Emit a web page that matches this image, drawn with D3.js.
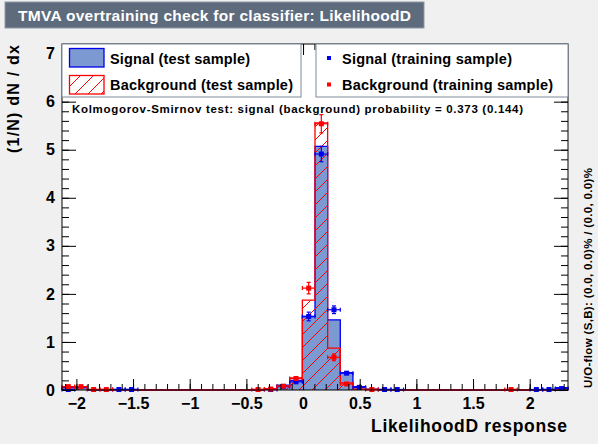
<!DOCTYPE html>
<html>
<head>
<meta charset="utf-8">
<script src="https://cdn.jsdelivr.net/npm/d3@7"></script>
<style>
  body { margin: 0; background: #f0f0f0; }
  svg { display: block; font-family: "Liberation Sans", Arial, Helvetica, sans-serif; font-weight: bold; }
</style>
</head>
<body>
<svg id="chart" width="598" height="444"></svg>
<script>
// histogram binning (40 bins over the response range)
var xRange = [-2.127, 2.338];
var nBins = 40;
var yRange = [0, 7.2];

// test samples (drawn as histograms)
var sigTest = [0.05, 0.05, 0, 0, 0.01, 0.01, 0, 0, 0, 0,
               0, 0, 0, 0, 0, 0, 0.02, 0.1, 0.2, 1.53,
               5.07, 1.46, 0.36, 0.07, 0.02, 0.01, 0, 0, 0, 0,
               0, 0, 0, 0, 0, 0, 0, 0, 0.01, 0.05];
var bkgTest = [0.07, 0.07, 0.01, 0.01, 0, 0, 0, 0, 0, 0,
               0, 0, 0, 0, 0, 0.01, 0.03, 0.08, 0.25, 1.87,
               5.56, 0.87, 0.15, 0.02, 0.01, 0, 0, 0, 0, 0,
               0, 0, 0, 0, 0, 0.01, 0, 0, 0, 0];

// training samples (drawn as points with errors)
var sigTrain = [0.01, 0, 0, 0, 0.01, 0.01, 0, 0, 0, 0,
                0, 0, 0, 0, 0, 0, 0.01, 0.07, 0.17, 1.53,
                4.91, 1.67, 0.35, 0.055, 0, 0.01, 0.01, 0, 0, 0,
                0, 0, 0, 0, 0, 0, 0, 0.01, 0.01, 0.03];
var sigTrainErr = [0.01, 0, 0, 0, 0.01, 0.01, 0, 0, 0, 0,
                   0, 0, 0, 0, 0, 0, 0.01, 0.02, 0.03, 0.09,
                   0.16, 0.08, 0.04, 0.02, 0, 0.01, 0.01, 0, 0, 0,
                   0, 0, 0, 0, 0, 0, 0, 0.01, 0.01, 0.01];
var bkgTrain = [0.07, 0.07, 0.01, 0.01, 0, 0, 0, 0, 0, 0,
                0, 0, 0, 0, 0, 0.01, 0.02, 0.08, 0.24, 2.12,
                5.54, 0.68, 0.125, 0, 0.01, 0, 0, 0, 0, 0,
                0, 0, 0, 0, 0, 0.01, 0, 0, 0, 0];
var bkgTrainErr = [0.02, 0.02, 0.01, 0.01, 0, 0, 0, 0, 0, 0,
                   0, 0, 0, 0, 0, 0.01, 0.01, 0.02, 0.04, 0.12,
                   0.19, 0.07, 0.03, 0, 0.01, 0, 0, 0, 0, 0,
                   0, 0, 0, 0, 0, 0.01, 0, 0, 0, 0];

var xMajor = [-2, -1.5, -1, -0.5, 0, 0.5, 1, 1.5, 2];
var yMajor = [0, 1, 2, 3, 4, 5, 6, 7];

var titleText = "TMVA overtraining check for classifier: LikelihoodD";
var xTitle = "LikelihoodD response";
var yTitle = "(1/N) dN / dx";
var ksText = "Kolmogorov-Smirnov test: signal (background) probability = 0.373 (0.144)";
var flowText = "U/O-flow (S,B): (0.0, 0.0)% / (0.0, 0.0)%";
var legendLeft = ["Signal (test sample)", "Background (test sample)"];
var legendRight = ["Signal (training sample)", "Background (training sample)"];

var sigFill = "#7d99d1", sigLine = "#0000ee", bkgLine = "#ff0000";

var svg = d3.select("#chart");
var frame = {left: 62, right: 568, top: 44, bottom: 390};

var x = d3.scaleLinear().domain(xRange).range([frame.left, frame.right]);
var y = d3.scaleLinear().domain(yRange).range([frame.bottom, frame.top]);

var binW = (xRange[1] - xRange[0]) / nBins;
var edges = d3.range(nBins + 1).map(function(i) { return xRange[0] + i * binW; });

// hatch pattern for background
var defs = svg.append("defs");
defs.append("pattern")
    .attr("id", "hatch")
    .attr("patternUnits", "userSpaceOnUse")
    .attr("width", 13).attr("height", 13)
  .append("path")
    .attr("d", "M0,13 L13,0 M-3,3 L3,-3 M10,16 L16,10")
    .attr("stroke", bkgLine)
    .attr("stroke-width", 1);

// ROOT text is a bit wider than Liberation at the same height, so stretch to the measured width
function label(sel, size, len) {
    sel.attr("font-size", size);
    if (len) sel.attr("textLength", len).attr("lengthAdjust", "spacing");
    return sel;
}

// title box
svg.append("rect")
    .attr("x", 5).attr("y", 2).attr("width", 419).attr("height", 26)
    .attr("fill", "#5d6b7d").attr("stroke", "#8f99a6");
label(svg.append("text")
    .attr("x", 18).attr("y", 20.5)
    .attr("fill", "white")
    .text(titleText), 15.5, 393);

// plot frame
svg.append("rect")
    .attr("x", frame.left).attr("y", frame.top)
    .attr("width", frame.right - frame.left).attr("height", frame.bottom - frame.top)
    .attr("fill", "white");

function stepPath(vals) {
    var p = d3.path();
    p.moveTo(x(edges[0]), y(0));
    vals.forEach(function(v, i) {
        p.lineTo(x(edges[i]), y(v));
        p.lineTo(x(edges[i + 1]), y(v));
    });
    p.lineTo(x(edges[nBins]), y(0));
    return p.toString();
}

svg.append("path")
    .attr("d", stepPath(sigTest))
    .attr("fill", sigFill).attr("stroke", sigLine).attr("stroke-width", 1.3);
svg.append("path")
    .attr("d", stepPath(bkgTest))
    .attr("fill", "url(#hatch)").attr("stroke", bkgLine).attr("stroke-width", 1.3);

// training points with error bars
function drawPoints(vals, errs, color) {
    var g = svg.append("g").attr("stroke", color).attr("fill", color);
    vals.forEach(function(v, i) {
        if (!v) return;
        var cx = x((edges[i] + edges[i + 1]) / 2);
        var cy = y(v);
        var x0 = x(edges[i]), x1 = x(edges[i + 1]);
        var yLo = y(v - errs[i]), yHi = y(v + errs[i]);
        g.append("line").attr("x1", x0).attr("x2", x1).attr("y1", cy).attr("y2", cy).attr("stroke-width", 1.2);
        g.append("line").attr("x1", x0).attr("x2", x0).attr("y1", cy - 2).attr("y2", cy + 2).attr("stroke-width", 1.2);
        g.append("line").attr("x1", x1).attr("x2", x1).attr("y1", cy - 2).attr("y2", cy + 2).attr("stroke-width", 1.2);
        if (yLo - yHi > 4) {
            g.append("line").attr("x1", cx).attr("x2", cx).attr("y1", yLo).attr("y2", yHi).attr("stroke-width", 1.2);
            g.append("line").attr("x1", cx - 2).attr("x2", cx + 2).attr("y1", yLo).attr("y2", yLo).attr("stroke-width", 1.2);
            g.append("line").attr("x1", cx - 2).attr("x2", cx + 2).attr("y1", yHi).attr("y2", yHi).attr("stroke-width", 1.2);
        }
        g.append("rect").attr("x", cx - 2.5).attr("y", cy - 2.5).attr("width", 5).attr("height", 5).attr("stroke", "none");
    });
}
drawPoints(sigTrain, sigTrainErr, sigLine);
drawPoints(bkgTrain, bkgTrainErr, bkgLine);

// axes
var xMinor = d3.range(-2.1, 2.35, 0.1).filter(function(d) { return d >= xRange[0] && d <= xRange[1]; });
var yMinor = d3.range(0, 7.21, 0.2);
var fmt = function(d) { return d < 0 ? "\u2212" + Math.abs(d) : String(d); };

function addAxis(axis, tx, ty) {
    var g = svg.append("g").attr("transform", "translate(" + tx + "," + ty + ")").call(axis);
    g.select(".domain").remove();
    g.selectAll("line").attr("stroke", "black");
    g.selectAll("text").attr("font-size", 16).attr("fill", "black").attr("font-family", null);
    return g;
}

addAxis(d3.axisBottom(x).tickValues(xMajor).tickSize(-11).tickPadding(8).tickFormat(fmt), 0, frame.bottom);
addAxis(d3.axisBottom(x).tickValues(xMinor).tickSize(-6).tickFormat(""), 0, frame.bottom);
addAxis(d3.axisTop(x).tickValues(xMajor).tickSize(-11).tickFormat(""), 0, frame.top);
addAxis(d3.axisTop(x).tickValues(xMinor).tickSize(-6).tickFormat(""), 0, frame.top);
addAxis(d3.axisLeft(y).tickValues(yMajor).tickSize(-14).tickPadding(7).tickFormat(fmt), frame.left, 0);
addAxis(d3.axisLeft(y).tickValues(yMinor).tickSize(-7).tickFormat(""), frame.left, 0);
addAxis(d3.axisRight(y).tickValues(yMajor).tickSize(-14).tickFormat(""), frame.right, 0);
addAxis(d3.axisRight(y).tickValues(yMinor).tickSize(-7).tickFormat(""), frame.right, 0);

svg.append("rect")
    .attr("x", frame.left).attr("y", frame.top)
    .attr("width", frame.right - frame.left).attr("height", frame.bottom - frame.top)
    .attr("fill", "none").attr("stroke", "black");

// axis titles
label(svg.append("text")
    .attr("x", 567).attr("y", 432)
    .attr("text-anchor", "end")
    .text(xTitle), 17.5, 196);
label(svg.append("text")
    .attr("transform", "translate(18.5,45) rotate(-90)")
    .attr("text-anchor", "end")
    .text(yTitle), 16, 108);
label(svg.append("text")
    .attr("transform", "translate(591.5,388) rotate(-90)")
    .text(flowText), 11.5, 220);

// legends
var legBorder = "#7f8a99";
svg.append("rect").attr("x", frame.left).attr("y", frame.top)
    .attr("width", 301 - frame.left).attr("height", 97 - frame.top)
    .attr("fill", "white").attr("stroke", legBorder);
svg.append("rect").attr("x", 316).attr("y", frame.top)
    .attr("width", frame.right - 316).attr("height", 97 - frame.top)
    .attr("fill", "white").attr("stroke", legBorder);

svg.append("rect").attr("x", 69.5).attr("y", 48.5).attr("width", 34.5).attr("height", 18.5)
    .attr("fill", sigFill).attr("stroke", sigLine).attr("stroke-width", 1.3);
svg.append("rect").attr("x", 69.5).attr("y", 75.5).attr("width", 34.5).attr("height", 18.5)
    .attr("fill", "url(#hatch)").attr("stroke", bkgLine).attr("stroke-width", 1.3);
var leftLen = [140, 183], rightLen = [170, 211];
legendLeft.forEach(function(t, i) {
    label(svg.append("text").attr("x", 110).attr("y", 63.5 + i * 26.5).text(t), 14.5, leftLen[i]);
});
[sigLine, bkgLine].forEach(function(c, i) {
    svg.append("rect").attr("x", 327).attr("y", 56 + i * 26.5).attr("width", 4).attr("height", 4).attr("fill", c);
});
legendRight.forEach(function(t, i) {
    label(svg.append("text").attr("x", 342).attr("y", 63.5 + i * 26.5).text(t), 14.5, rightLen[i]);
});

// KS test result
label(svg.append("text")
    .attr("x", 72).attr("y", 113)
    .text(ksText), 11.5, 451);
</script>
</body>
</html>
